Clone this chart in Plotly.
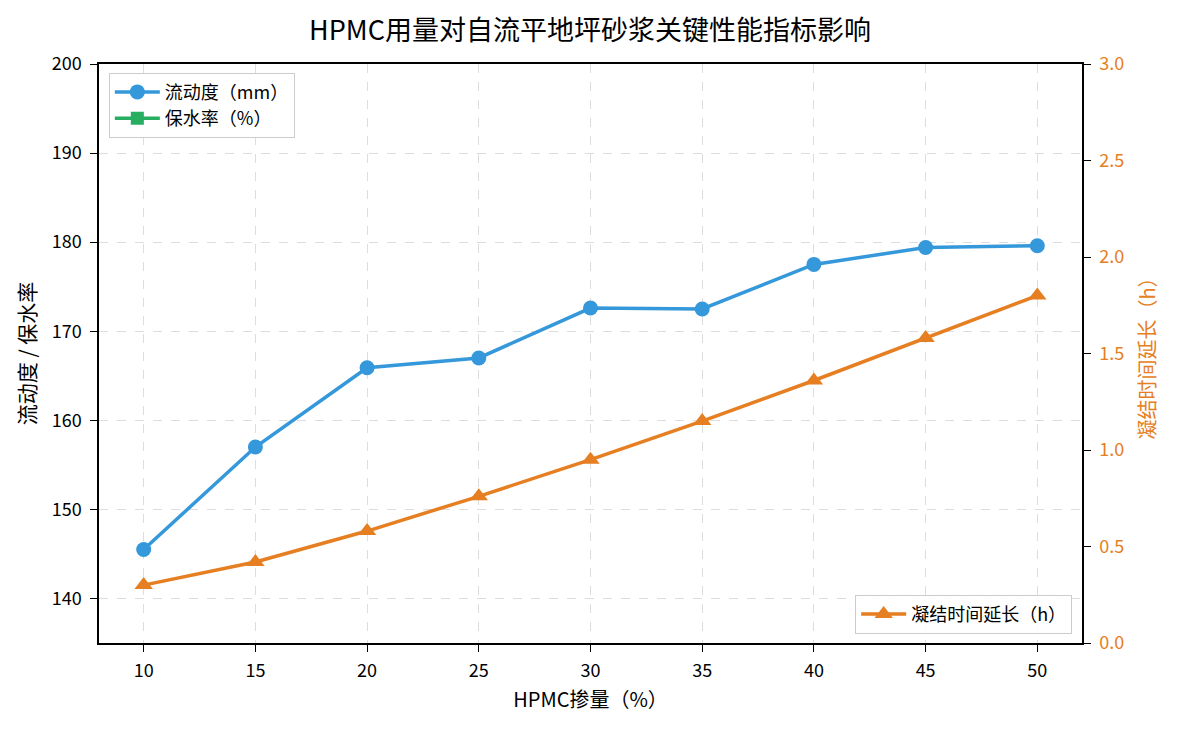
import plotly.graph_objects as go

hpmc = [10, 15, 20, 25, 30, 35, 40, 45, 50]
fluidity = [145.5, 157.0, 165.9, 167.0, 172.6, 172.5, 177.5, 179.4, 179.6]
water_retention = [88.5, 90.2, 92.0, 93.4, 94.5, 95.2, 95.8, 96.2, 96.5]
set_delay = [0.30, 0.42, 0.58, 0.76, 0.95, 1.15, 1.36, 1.58, 1.80]

BLUE = "#3498db"
GREEN = "#27ae60"
ORANGE = "#e67e22"
FONT = "Noto Sans CJK SC"

fig = go.Figure()
fig.add_trace(go.Scatter(x=hpmc, y=fluidity, name="流动度（mm）", mode="lines+markers",
                         line=dict(color=BLUE, width=3.5), marker=dict(symbol="circle", size=15, color=BLUE),
                         legend="legend"))
fig.add_trace(go.Scatter(x=hpmc, y=water_retention, name="保水率（%）", mode="lines+markers",
                         line=dict(color=GREEN, width=3.5), marker=dict(symbol="square", size=13, color=GREEN),
                         legend="legend"))
fig.add_trace(go.Scatter(x=hpmc, y=set_delay, name="凝结时间延长（h）", mode="lines+markers",
                         line=dict(color=ORANGE, width=3.5), marker=dict(symbol="triangle-up", size=16, color=ORANGE),
                         yaxis="y2", legend="legend2"))

fig.update_layout(
    width=1180, height=730,
    margin=dict(l=99, r=98, t=64, b=87),
    paper_bgcolor="white", plot_bgcolor="white",
    font=dict(family=FONT, size=18, color="black"),
    title=dict(text="HPMC用量对自流平地坪砂浆关键性能指标影响", x=0.5, xanchor="center",
               y=0.958, yanchor="middle", font=dict(size=27, color="black")),
    xaxis=dict(range=[8, 52], tickmode="array", tickvals=hpmc,
               title=dict(text="HPMC掺量（%）", font=dict(size=20), standoff=12),
               tickfont=dict(size=18), ticklabelstandoff=4,
               showline=True, linecolor="black", linewidth=1.5, mirror=True,
               ticks="outside", ticklen=7, tickcolor="black",
               showgrid=True, gridcolor="#dddddd", griddash="dash", gridwidth=1, zeroline=False),
    yaxis=dict(range=[135, 200], tickmode="array", tickvals=[140, 150, 160, 170, 180, 190, 200],
               title=dict(text="流动度 / 保水率", font=dict(size=21), standoff=10),
               tickfont=dict(size=18), ticklabelstandoff=5,
               showline=True, linecolor="black", linewidth=1.5, mirror=True,
               ticks="outside", ticklen=7, tickcolor="black",
               showgrid=True, gridcolor="#dddddd", griddash="dash", gridwidth=1, zeroline=False),
    yaxis2=dict(range=[0, 3.0], overlaying="y", side="right", tickmode="array",
                tickvals=[0, 0.5, 1.0, 1.5, 2.0, 2.5, 3.0], tickformat=".1f",
                title=dict(text="凝结时间延长（h）", font=dict(size=20, color=ORANGE), standoff=18),
                tickfont=dict(color=ORANGE, size=18), ticklabelstandoff=5,
                showline=True, linecolor="black", linewidth=1.5,
                ticks="outside", ticklen=7, tickcolor="black",
                showgrid=False, zeroline=False),
    legend=dict(x=0.01, y=0.985, xanchor="left", yanchor="top",
                bgcolor="rgba(255,255,255,0.9)", bordercolor="#cccccc", borderwidth=1,
                font=dict(size=18), itemwidth=45),
    legend2=dict(x=0.99, y=0.016, xanchor="right", yanchor="bottom",
                 bgcolor="rgba(255,255,255,0.9)", bordercolor="#cccccc", borderwidth=1,
                 font=dict(size=18), itemwidth=45),
)

fig.write_html("out.html")
